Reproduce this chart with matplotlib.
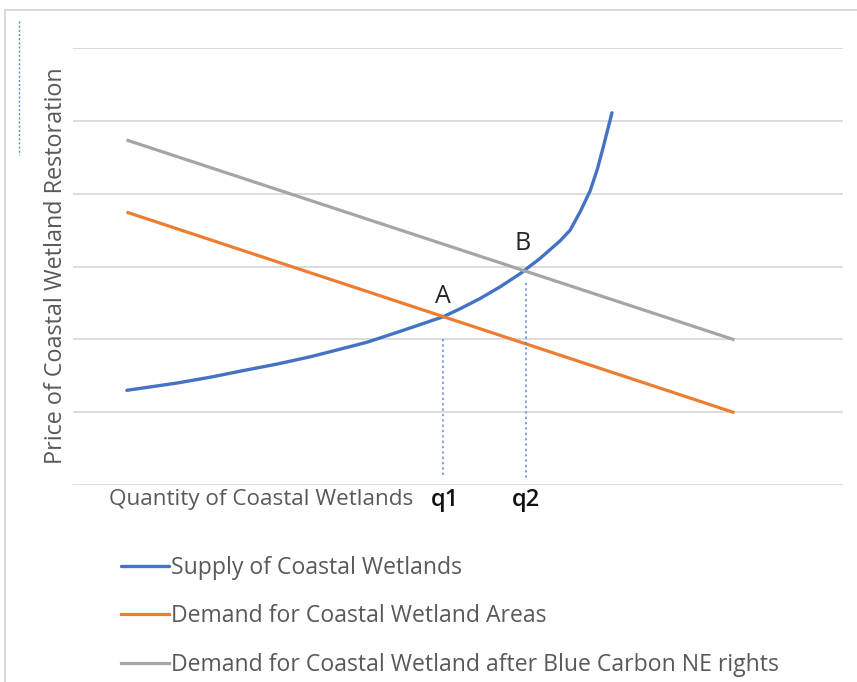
import matplotlib.pyplot as plt
from matplotlib.lines import Line2D

plt.rcParams['font.family'] = ['Open Sans', 'DejaVu Sans']

# supply curve of coastal wetlands (quantity, price)
supply_q = [0.98, 1.81, 2.36, 2.90, 3.46, 4.01, 4.39, 4.95, 5.50, 6.21, 6.49, 6.82, 7.15,
            7.48, 7.81, 8.14, 8.31, 8.48, 8.64, 8.76, 8.85, 8.93, 9.00]
supply_p = [1.30, 1.40, 1.48, 1.57, 1.66, 1.76, 1.84, 1.96, 2.11, 2.31, 2.42, 2.56, 2.72,
            2.90, 3.11, 3.35, 3.50, 3.76, 4.04, 4.34, 4.62, 4.88, 5.11]

# demand curves (straight lines)
demand_q = [1.0, 11.0]
demand_p = [3.74, 1.0]
demand_bc_q = [1.0, 11.0]
demand_bc_p = [4.73, 2.0]

# equilibrium points
q1, p_a = 6.21, 2.31
q2, p_b = 7.58, 2.98

labels = ['Supply of Coastal Wetlands',
          'Demand for Coastal Wetland Areas',
          'Demand for Coastal Wetland after Blue Carbon NE rights']

blue = '#4472C4'
orange = '#ED7D31'
grey = '#A5A5A5'
text_grey = '#595959'
dot_blue = '#5A86D6'

fig = plt.figure(figsize=(8.57, 6.82), dpi=100)
ax = fig.add_axes([73 / 857, 1 - 485 / 682, 770 / 857, 437 / 682])

ax.plot(supply_q, supply_p, color=blue, lw=2.4, label=labels[0],
        solid_capstyle='round', solid_joinstyle='round')
ax.plot(demand_q, demand_p, color=orange, lw=2.3, label=labels[1])
ax.plot(demand_bc_q, demand_bc_p, color=grey, lw=2.3, label=labels[2])

# dotted drop lines from the equilibria
ax.plot([q1, q1], [2.0, 0.1], color=dot_blue, lw=1.1, ls=(0, (1.5, 2)))
ax.plot([q2, q2], [2.78, 0.07], color=dot_blue, lw=1.1, ls=(0, (1.5, 2)))

ax.text(q1, p_a + 0.1, 'A', ha='center', va='bottom', fontsize=18, color='#262626')
ax.text(q2 - 0.06, p_b + 0.17, 'B', ha='center', va='bottom', fontsize=18, color='#262626')

ax.set_xlim(0.09, 12.82)
ax.set_ylim(0, 6)
ax.set_yticks(range(0, 7))
ax.set_xticks([])
ax.tick_params(left=False, labelleft=False)
ax.grid(axis='y', color='#D9D9D9', lw=1.3)
ax.set_axisbelow(True)
for s in ax.spines.values():
    s.set_visible(False)

ax.text(q1 + 0.03, -0.2, 'q1', ha='center', va='center', fontsize=17, color='#111111',
        fontweight='semibold')
ax.text(q2, -0.2, 'q2', ha='center', va='center', fontsize=17, color='#111111',
        fontweight='semibold')
ax.text(q1 - 0.5, -0.2, 'Quantity of Coastal Wetlands', ha='right', va='center',
        fontsize=16.2, color=text_grey)
fig.text(56 / 857, 1 - 266 / 682, 'Price of Coastal Wetland Restoration', rotation=90,
         ha='center', va='center', fontsize=16.8, color=text_grey)

fig.legend(loc='upper left', bbox_to_anchor=(121 / 857, 1 - 556 / 682), frameon=False,
           fontsize=16.6, handlelength=2.08, handletextpad=0.09, labelspacing=1.06,
           labelcolor=text_grey, borderpad=0, borderaxespad=0)

# chart frame and stray marker at top left
fig.add_artist(Line2D([5 / 857, 1], [1 - 10 / 682] * 2, color='#D9D9D9', lw=1.5))
fig.add_artist(Line2D([5 / 857] * 2, [0, 1 - 10 / 682], color='#D9D9D9', lw=1.5))
fig.add_artist(Line2D([19 / 857] * 2, [1 - 21 / 682, 1 - 155 / 682], color=dot_blue,
                      lw=1, ls=(0, (1.5, 1.5))))

fig.savefig('out.png', dpi=100)
